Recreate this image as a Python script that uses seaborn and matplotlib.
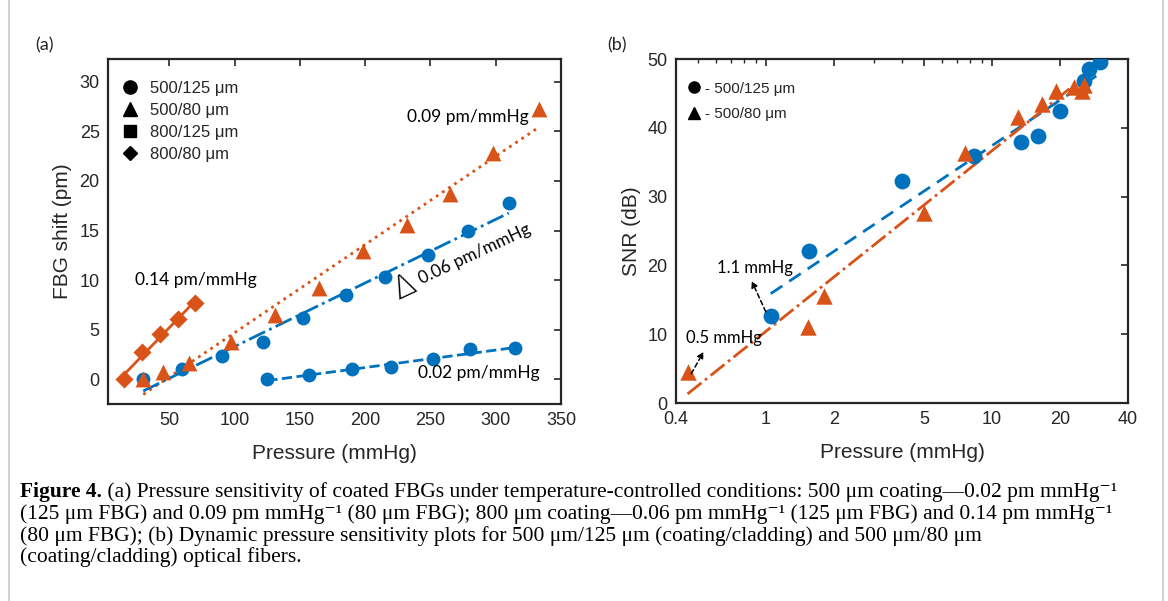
import numpy as np
import matplotlib
matplotlib.use("Agg")
import matplotlib.pyplot as plt
import seaborn as sns
from matplotlib.lines import Line2D
from matplotlib.ticker import FixedLocator, NullFormatter, FuncFormatter, LogLocator

BLUE = "#0072BD"
ORANGE = "#D95319"
DARK = "#262626"

# (a) FBG shift (pm) vs pressure (mmHg), coating/cladding
p_500_125 = [125, 157, 190, 220, 252, 280, 315]
s_500_125 = [0.0, 0.4, 1.0, 1.2, 2.0, 3.0, 3.1]
p_500_80 = [30, 45, 65, 97, 131, 165, 198, 232, 265, 298, 333]
s_500_80 = [0.0, 0.7, 1.6, 3.8, 6.5, 9.2, 12.9, 15.6, 18.7, 22.8, 27.3]
p_800_125 = [30, 60, 90, 122, 152, 185, 215, 248, 279, 310]
s_800_125 = [0.0, 1.0, 2.3, 3.8, 6.2, 8.5, 10.3, 12.5, 14.9, 17.8]
p_800_80 = [15, 29, 43, 57, 70]
s_800_80 = [0.0, 2.7, 4.6, 6.1, 7.7]
legend_a = ["500/125 μm", "500/80 μm", "800/125 μm", "800/80 μm"]

# (b) SNR (dB) vs pressure (mmHg)
snr_p_125 = [1.05, 1.55, 4.0, 8.3, 13.5, 16.0, 20.0, 25.5, 27.0, 30.0]
snr_125 = [12.7, 22.1, 32.2, 35.9, 37.9, 38.8, 42.5, 46.8, 48.6, 49.5]
snr_p_80 = [0.45, 1.53, 1.8, 5.0, 7.6, 13.0, 16.6, 19.2, 23.0, 25.0, 25.5]
snr_80 = [4.5, 11.0, 15.5, 27.6, 36.3, 41.5, 43.5, 45.3, 46.0, 45.4, 46.2]
legend_b = ["- 500/125 μm", "- 500/80 μm"]

caption_head = "Figure 4."
caption = [
    " (a) Pressure sensitivity of coated FBGs under temperature-controlled conditions: 500 μm coating—0.02 pm mmHg⁻¹",
    "(125 μm FBG) and 0.09 pm mmHg⁻¹ (80 μm FBG); 800 μm coating—0.06 pm mmHg⁻¹ (125 μm FBG) and 0.14 pm mmHg⁻¹",
    "(80 μm FBG); (b) Dynamic pressure sensitivity plots for 500 μm/125 μm (coating/cladding) and 500 μm/80 μm",
    "(coating/cladding) optical fibers.",
]

sns.set_style("white")
plt.rcParams["font.family"] = ["Liberation Sans", "DejaVu Sans"]
ANN = ["Lato", "DejaVu Sans"]
SERIF = ["Liberation Serif", "DejaVu Serif"]


def fit_line(ax, x, y, color, ls, logx=False):
    x = np.asarray(x, float)
    y = np.asarray(y, float)
    xv = np.log10(x) if logx else x
    k, b = np.polyfit(xv, y, 1)
    xs = np.array([x.min(), x.max()])
    ys = k * (np.log10(xs) if logx else xs) + b
    sns.lineplot(x=xs, y=ys, ax=ax, color=color, linestyle=ls, linewidth=2, zorder=2)


def style_axes(ax):
    for sp in ax.spines.values():
        sp.set_visible(True)
        sp.set_color(DARK)
        sp.set_linewidth(1.6)
    ax.tick_params(which="major", direction="in", top=True, right=True, length=5,
                   width=1.2, color=DARK, labelcolor=DARK, labelsize=13, pad=6)
    ax.tick_params(which="minor", direction="in", top=True, right=True, length=3,
                   width=1.0, color=DARK)


fig, (ax1, ax2) = plt.subplots(1, 2, figsize=(11.68, 6.01), dpi=100)
ax1.set_position([108 / 1168, 197 / 601, 453 / 1168, 345 / 601])
ax2.set_position([676 / 1168, 198 / 601, 452 / 1168, 344 / 601])

# ---- panel (a)
fit_line(ax1, p_800_80, s_800_80, ORANGE, "-")
fit_line(ax1, p_500_80, s_500_80, ORANGE, ":")
fit_line(ax1, p_800_125, s_800_125, BLUE, "-.")
fit_line(ax1, p_500_125, s_500_125, BLUE, "--")
sns.scatterplot(x=p_500_125, y=s_500_125, ax=ax1, marker="o", s=100, color=BLUE, linewidth=0, zorder=3)
sns.scatterplot(x=p_800_125, y=s_800_125, ax=ax1, marker="o", s=100, color=BLUE, linewidth=0, zorder=3)
sns.scatterplot(x=p_500_80, y=s_500_80, ax=ax1, marker="^", s=130, color=ORANGE, linewidth=0, zorder=3)
sns.scatterplot(x=p_800_80, y=s_800_80, ax=ax1, marker="D", s=85, color=ORANGE, linewidth=0, zorder=3)

ax1.set_xlim(3, 350)
ax1.set_ylim(-2.5, 32.3)
ax1.set_xticks([50, 100, 150, 200, 250, 300, 350])
ax1.set_yticks([0, 5, 10, 15, 20, 25, 30])
ax1.set_xlabel("Pressure (mmHg)", fontsize=15, color=DARK)
ax1.set_ylabel("FBG shift (pm)", fontsize=15, color=DARK)
ax1.xaxis.set_label_coords(0.5, -0.115)
ax1.yaxis.set_label_coords(-0.08, 0.5)
style_axes(ax1)

h_a = [Line2D([], [], marker=m, color="k", ls="none", markersize=ms)
       for m, ms in zip(["o", "^", "s", "D"], [9.5, 10, 9, 7.5])]
ax1.legend(h_a, legend_a, loc="upper left", bbox_to_anchor=(0.0, 0.97), frameon=False,
           fontsize=12, handletextpad=0.6, labelspacing=0.42, handlelength=1.2, borderaxespad=0.3)

ax1.text(279, 26.4, "0.09 pm/mmHg", family=ANN, fontsize=12.5, ha="center", va="center", color="k")
ax1.text(70, 10.0, "0.14 pm/mmHg", family=ANN, fontsize=12.5, ha="center", va="center", color="k")
ax1.text(287, 0.6, "0.02 pm/mmHg", family=ANN, fontsize=12.5, ha="center", va="center", color="k")
ax1.text(284, 12.6, "0.06 pm/mmHg", family=ANN, fontsize=12.5, ha="center", va="center",
         rotation=25, rotation_mode="anchor", color="k")
ax1.text(230, 9.3, "Δ", family=["DejaVu Sans"], fontsize=23, ha="center", va="center",
         rotation=25, color="k", fontweight="light")

# ---- panel (b)
ax2.set_xscale("log")
fit_line(ax2, snr_p_125, snr_125, BLUE, (0, (5, 3)), logx=True)
fit_line(ax2, snr_p_80, snr_80, ORANGE, "-.", logx=True)
sns.scatterplot(x=snr_p_125, y=snr_125, ax=ax2, marker="o", s=130, color=BLUE, linewidth=0, zorder=3)
sns.scatterplot(x=snr_p_80, y=snr_80, ax=ax2, marker="^", s=140, color=ORANGE, linewidth=0, zorder=3)

ax2.set_xlim(0.4, 40)
ax2.set_ylim(0, 50)
ax2.xaxis.set_major_locator(FixedLocator([0.4, 1, 2, 5, 10, 20, 40]))
ax2.xaxis.set_major_formatter(FuncFormatter(lambda v, p: f"{v:g}"))
ax2.xaxis.set_minor_locator(LogLocator(base=10, subs=np.arange(2, 10)))
ax2.xaxis.set_minor_formatter(NullFormatter())
ax2.set_yticks([0, 10, 20, 30, 40, 50])
ax2.set_xlabel("Pressure (mmHg)", fontsize=15, color=DARK)
ax2.set_ylabel("SNR (dB)", fontsize=15, color=DARK)
ax2.xaxis.set_label_coords(0.5, -0.115)
ax2.yaxis.set_label_coords(-0.077, 0.5)
style_axes(ax2)

h_b = [Line2D([], [], marker=m, color="k", ls="none", markersize=ms)
       for m, ms in zip(["o", "^"], [8, 8.5])]
ax2.legend(h_b, legend_b, loc="upper left", bbox_to_anchor=(0.0, 0.965), frameon=False,
           fontsize=11, handletextpad=0.2, labelspacing=0.75, handlelength=1.0, borderaxespad=0.3)

arrow = dict(arrowstyle="-|>", linestyle=(0, (3, 2)), color="k", lw=1.1, mutation_scale=9)
ax2.annotate("", xy=(0.855, 18.1), xytext=(1.01, 12.9), arrowprops=arrow)
ax2.annotate("", xy=(0.537, 7.8), xytext=(0.461, 3.9), arrowprops=arrow)
ax2.text(0.896, 19.6, "1.1 mmHg", family=ANN, fontsize=12, ha="center", va="center", color="k")
ax2.text(0.652, 9.45, "0.5 mmHg", family=ANN, fontsize=12, ha="center", va="center", color="k")

# panel tags
fig.text(45 / 1168, 1 - 45 / 601, "(a)", family=ANN, fontsize=13, ha="center", va="center")
fig.text(617 / 1168, 1 - 45 / 601, "(b)", family=ANN, fontsize=13, ha="center", va="center")

# caption (invisible full-figure axes so the bold head can anchor the rest of line 1)
cap = fig.add_axes([0, 0, 1, 1])
cap.set_axis_off()
cap.set_xlim(0, 1)
cap.set_ylim(0, 1)
y0 = 1 - 497 / 601
head = cap.text(20 / 1168, y0, caption_head, family=SERIF, fontsize=15.5,
                fontweight="bold", ha="left", va="baseline", color="k")
cap.annotate(caption[0], xy=(1, 0), xycoords=head, ha="left", va="bottom",
             family=SERIF, fontsize=15.5, color="k")
for i, line in enumerate(caption[1:], start=1):
    cap.text(20 / 1168, 1 - (497 + 21.8 * i) / 601, line, family=SERIF,
             fontsize=15.5, ha="left", va="baseline", color="k")

# page frame
for xf in (9 / 1168, 1163 / 1168):
    fig.add_artist(Line2D([xf, xf], [0, 1], color="#c8c8c8", lw=1.2))

fig.savefig("out.png", dpi=100)
